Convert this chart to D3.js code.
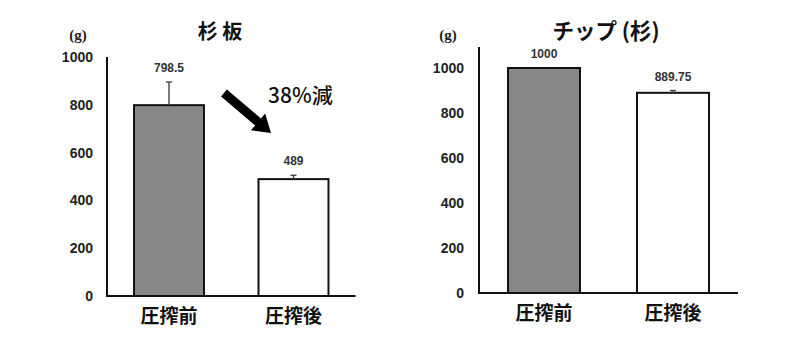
<!DOCTYPE html>
<html><head><meta charset="utf-8">
<script src="https://cdn.jsdelivr.net/npm/d3@7/dist/d3.min.js"></script>
<style>body{margin:0;background:#fff}svg{display:block}</style>
</head><body>
<svg id="c" width="800" height="355"></svg>
<script>
const categories = ["圧搾前", "圧搾後"];
const boardTitle = "杉 板";
const boardValues = [798.5, 489];
const boardErrors = [97, 16];
const boardLabels = ["798.5", "489"];
const chipTitle = "チップ (杉)";
const chipValues = [1000, 889.75];
const chipErrors = [0, 10];
const chipLabels = ["1000", "889.75"];
const yTicks = [0, 200, 400, 600, 800, 1000];
const unitLabel = "(g)";
const changeLabel = "38%減";
const barFills = ["#878787", "#ffffff"];

const svg = d3.select("#c");
const numFont = "'Liberation Sans', Arial, sans-serif";
const cjkFont = "'Noto Sans CJK JP', 'Noto Sans CJK SC', sans-serif";

function panel(cfg) {
  const g = svg.append("g");
  const y = d3.scaleLinear().domain([0, 1000]).range([cfg.y0, cfg.y1000]);
  const x = d3.scaleBand().domain(categories).range(cfg.xr).paddingInner(cfg.pi).paddingOuter(cfg.po);

  const ya = g.append("g").attr("transform", `translate(${cfg.xr[0]},0)`)
    .call(d3.axisLeft(y).tickValues(yTicks).tickSize(0).tickPadding(cfg.tickPad).tickFormat(d3.format("d")));
  ya.select(".domain").remove();
  ya.selectAll("text").attr("font-family", numFont).attr("font-size", 14).attr("font-weight", "bold").attr("fill", "#222");

  g.selectAll("rect.bar").data(cfg.values).join("rect")
    .attr("x", (d, i) => x(categories[i]))
    .attr("y", d => y(d))
    .attr("width", x.bandwidth())
    .attr("height", d => y(0) - y(d))
    .attr("fill", (d, i) => barFills[i])
    .attr("stroke", "#111").attr("stroke-width", 2);

  cfg.values.forEach((v, i) => {
    if (!cfg.errors[i]) return;
    const cx = x(categories[i]) + x.bandwidth() / 2;
    g.append("line").attr("x1", cx).attr("x2", cx).attr("y1", y(v)).attr("y2", y(v + cfg.errors[i]))
      .attr("stroke", "#444").attr("stroke-width", 1.4);
    g.append("line").attr("x1", cx - 3).attr("x2", cx + 3).attr("y1", y(v + cfg.errors[i])).attr("y2", y(v + cfg.errors[i]))
      .attr("stroke", "#444").attr("stroke-width", 1.4);
  });

  cfg.values.forEach((v, i) => {
    const cx = x(categories[i]) + x.bandwidth() / 2;
    g.append("text").attr("x", cx).attr("y", y(v + cfg.errors[i]) - 10)
      .attr("text-anchor", "middle").attr("font-family", numFont).attr("font-size", 12).attr("font-weight", "bold")
      .attr("fill", "#333").text(cfg.labels[i]);
  });

  g.append("line").attr("x1", cfg.xr[0]).attr("x2", cfg.xr[0]).attr("y1", y(0) + 1).attr("y2", cfg.axisTop)
    .attr("stroke", "#111").attr("stroke-width", 2);
  g.append("line").attr("x1", cfg.xr[0] - 1).attr("x2", cfg.xr[1]).attr("y1", y(0)).attr("y2", y(0))
    .attr("stroke", "#111").attr("stroke-width", 2);

  categories.forEach(c => {
    g.append("text").attr("x", x(c) + x.bandwidth() / 2).attr("y", y(0) + 27)
      .attr("text-anchor", "middle").attr("font-family", cjkFont).attr("font-size", 19).attr("font-weight", "bold")
      .attr("fill", "#111").text(c);
  });

  g.append("text").attr("x", cfg.titleX).attr("y", 39).attr("text-anchor", "middle")
    .attr("font-family", cjkFont).attr("font-size", cfg.titleSize).attr("font-weight", "bold").attr("fill", "#111").text(cfg.title);
  g.append("text").attr("x", cfg.unitX).attr("y", 40).attr("text-anchor", "middle")
    .attr("font-family", "'Liberation Serif', serif").attr("font-size", 15).attr("font-weight", "bold").attr("fill", "#222").text(unitLabel);
  return { x, y, g };
}

panel({ y0: 296, y1000: 57, axisTop: 57, xr: [107, 355.5], pi: 0.438, po: 0.217, tickPad: 14,
  values: boardValues, errors: boardErrors, labels: boardLabels, title: boardTitle, titleX: 220, titleSize: 20, unitX: 78 });
panel({ y0: 293, y1000: 68, axisTop: 47, xr: [479, 738], pi: 0.442, po: 0.225, tickPad: 15,
  values: chipValues, errors: chipErrors, labels: chipLabels, title: chipTitle, titleX: 606, titleSize: 21.5, unitX: 448 });

const ax1 = 224, ay1 = 93, ax2 = 271, ay2 = 133;
const ang = Math.atan2(ay2 - ay1, ax2 - ax1);
const len = Math.hypot(ax2 - ax1, ay2 - ay1);
const head = 17, hw = 11, sw = 4.5;
svg.append("g").attr("transform", `translate(${ax1},${ay1}) rotate(${ang * 180 / Math.PI})`)
  .append("path")
  .attr("d", `M0,${-sw} L${len - head},${-sw} L${len - head},${-hw} L${len},0 L${len - head},${hw} L${len - head},${sw} L0,${sw} Z`)
  .attr("fill", "#000");
svg.append("text").attr("x", 268).attr("y", 103).attr("font-family", cjkFont).attr("font-size", 21)
  .attr("font-weight", "500").attr("fill", "#111").text(changeLabel);
</script>
</body></html>
